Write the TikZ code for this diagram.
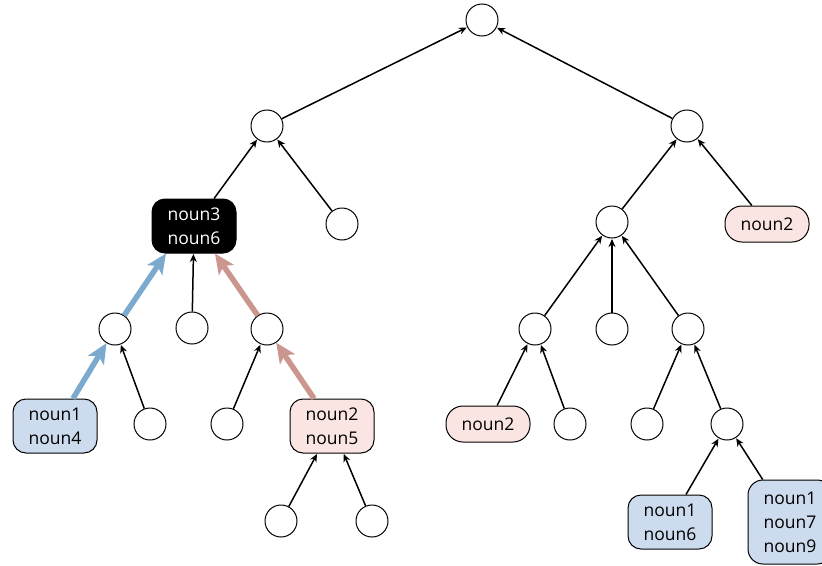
\documentclass[tikz,border=0pt]{standalone}
\usepackage{fontspec}
\setmainfont{Open Sans}
\usetikzlibrary{arrows.meta}
\definecolor{bluefill}{RGB}{205,219,238}
\definecolor{pinkfill}{RGB}{251,229,226}
\definecolor{bluearrow}{RGB}{124,170,206}
\definecolor{pinkarrow}{RGB}{203,150,142}
\begin{document}
\begin{tikzpicture}[x=1pt,y=-1pt,
  circ/.style={circle, draw, line width=1pt, minimum size=32pt, inner sep=0pt, fill=white},
  leaf/.style={draw, line width=1pt, rounded corners=13pt, minimum width=84pt, minimum height=54pt,
               align=center, inner sep=2pt, font=\fontsize{17.5}{24}\selectfont},
  pill/.style={leaf, rounded corners=17pt, minimum height=36pt},
  conn/.style={-{Stealth[length=8pt,width=7pt]}, line width=1.5pt, shorten >=0.5pt},
  thick blue/.style={-{Stealth[length=20pt,width=18pt,inset=5pt]}, line width=5.5pt, draw=bluearrow, color=bluearrow},
  thick pink/.style={-{Stealth[length=20pt,width=18pt,inset=5pt]}, line width=5.5pt, draw=pinkarrow, color=pinkarrow}]
\useasboundingbox (0,0) rectangle (822,565);

% tree nodes
\node[circ] (root) at (482,20) {};
\node[circ] (l1) at (267,126) {};
\node[circ] (r1) at (687,126) {};

\node[leaf, fill=black, text=white] (n36) at (194,226) {noun3\\noun6};
\node[circ] (l2b) at (342,224) {};
\node[circ] (r2a) at (612,222) {};
\node[pill, fill=pinkfill] (r2b) at (767,224) {noun2};

\node[circ] (l3a) at (115,329) {};
\node[circ] (l3b) at (192,328) {};
\node[circ] (l3c) at (267,329) {};
\node[circ] (r3a) at (535,329) {};
\node[circ] (r3b) at (612,329) {};
\node[circ] (r3c) at (688,329) {};

\node[leaf, fill=bluefill] (n14) at (55,426) {noun1\\noun4};
\node[circ] (l4b) at (150,424) {};
\node[circ] (l4c) at (227,424) {};
\node[leaf, fill=pinkfill] (n25) at (332,426) {noun2\\noun5};
\node[pill, fill=pinkfill] (r4a) at (488,424) {noun2};
\node[circ] (r4b) at (570,424) {};
\node[circ] (r4c) at (647,424) {};
\node[circ] (r4d) at (727,424) {};

\node[circ] (l5a) at (281,521) {};
\node[circ] (l5b) at (372,521) {};
\node[leaf, fill=bluefill] (n16) at (670,522) {noun1\\noun6};
\node[leaf, fill=bluefill, minimum height=84pt, rounded corners=15pt] (n179) at (790,522) {noun1\\noun7\\noun9};

% connectors, child to parent
\draw[conn] (l1) -- (root);
\draw[conn] (r1) -- (root);
\draw[conn] (n36) -- (l1);
\draw[conn] (l2b) -- (l1);
\draw[conn] (r2a) -- (r1);
\draw[conn] (r2b) -- (r1);

\draw[thick blue] (l3a) -- (n36.south west -| 166,0) ;
\draw[conn] (l3b) -- (n36);
\draw[thick pink] (l3c) -- (n36.south east -| 215,0);
\draw[conn] (r3a) -- (r2a);
\draw[conn] (r3b) -- (r2a);
\draw[conn] (r3c) -- (r2a);

\draw[thick blue] (n14.north east -| 73,0) -- (l3a);
\draw[conn] (l4b) -- (l3a);
\draw[conn] (l4c) -- (l3c);
\draw[thick pink] (n25.north west -| 314,0) -- (l3c);
\draw[conn] (r4a) -- (r3a);
\draw[conn] (r4b) -- (r3a);
\draw[conn] (r4c) -- (r3c);
\draw[conn] (r4d) -- (r3c);

\draw[conn] (l5a) -- (n25);
\draw[conn] (l5b) -- (n25);
\draw[conn] (n16) -- (r4d);
\draw[conn] (n179) -- (r4d);
\end{tikzpicture}
\end{document}
